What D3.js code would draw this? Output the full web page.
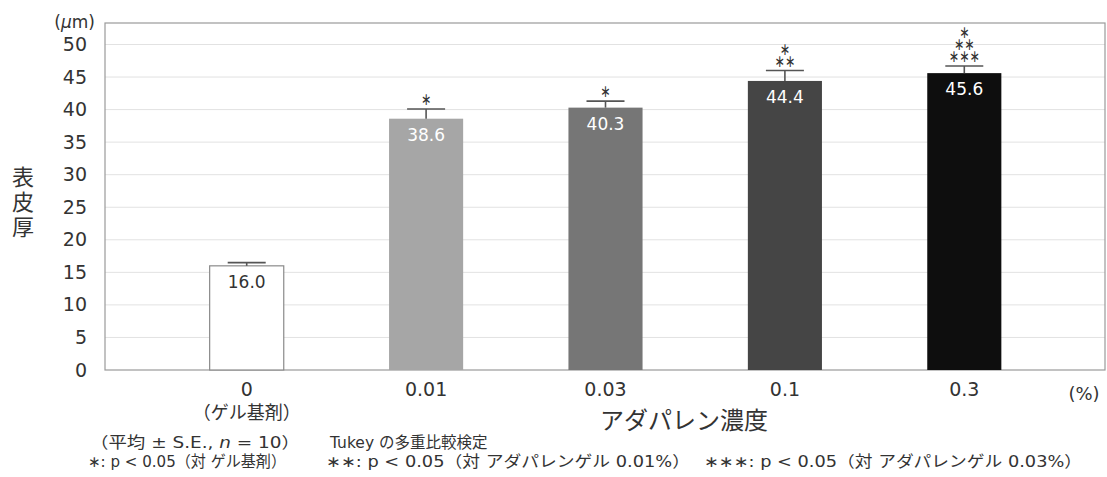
<!DOCTYPE html>
<html>
<head>
<meta charset="utf-8">
<script src="https://cdn.jsdelivr.net/npm/d3@7"></script>
<style>
  html, body { margin: 0; padding: 0; background: #fff; }
  svg { display: block; }
</style>
</head>
<body>
<svg id="chart" width="1107" height="477"></svg>
<script>
// Epidermal thickness by adapalene concentration
const categories = ["0", "0.01", "0.03", "0.1", "0.3"];
const means = [16.0, 38.6, 40.3, 44.4, 45.6];
const errors = [0.5, 1.5, 1.0, 1.6, 1.1];
const barColors = ["#ffffff", "#a6a6a6", "#767676", "#454545", "#0e0e0e"];
const labelColors = ["#333333", "#ffffff", "#ffffff", "#ffffff", "#ffffff"];
const significance = [[], ["*"], ["*"], ["*", "**"], ["*", "**", "***"]];
const yTicks = [0, 5, 10, 15, 20, 25, 30, 35, 40, 45, 50];

const JP = "'Noto Sans CJK JP', sans-serif";
const NUM = "'DejaVu Sans', 'Noto Sans CJK JP', sans-serif";
const INK = "#333";

const svg = d3.select("#chart");
const frame = { left: 105, right: 1105, top: 23, bottom: 370 };

const y = d3.scaleLinear().domain([0, 53.3]).range([frame.bottom, frame.top]);
const x = d3.scaleBand().domain(categories).range([157, 1054])
  .paddingInner(0.587).paddingOuter(0.2935);
const cx = d => x(d) + x.bandwidth() / 2;

// gridlines
svg.append("g").selectAll("line").data(yTicks.filter(d => d > 0)).join("line")
  .attr("x1", frame.left).attr("x2", frame.right)
  .attr("y1", d => y(d)).attr("y2", d => y(d))
  .attr("stroke", "#e2e2e2").attr("stroke-width", 1);

// plot frame
svg.append("rect")
  .attr("x", frame.left).attr("y", frame.top)
  .attr("width", frame.right - frame.left).attr("height", frame.bottom - frame.top)
  .attr("fill", "none").attr("stroke", "#9a9a9a").attr("stroke-width", 1.2);

// y axis tick labels
const yAxis = d3.axisLeft(y).tickValues(yTicks).tickSize(0).tickPadding(18);
const gy = svg.append("g").attr("transform", `translate(${frame.left},0)`).call(yAxis);
gy.select(".domain").remove();
gy.selectAll("text").style("font-family", NUM).style("font-size", "19px").style("fill", INK);

// unit
const unit = svg.append("text").attr("x", 95).attr("y", 28).attr("text-anchor", "end")
  .style("font-family", NUM).style("font-size", "17px").style("fill", INK);
unit.append("tspan").text("(");
unit.append("tspan").style("font-style", "italic").text("μ");
unit.append("tspan").text("m)");

// y title, stacked vertically
const yTitle = ["表", "皮", "厚"];
svg.append("g").selectAll("text").data(yTitle).join("text")
  .attr("x", 23).attr("y", (d, i) => 185 + i * 25)
  .attr("text-anchor", "middle")
  .style("font-family", JP).style("font-size", "22px").style("fill", INK)
  .text(d => d);

// bars
svg.append("g").selectAll("rect").data(categories).join("rect")
  .attr("x", d => x(d))
  .attr("y", (d, i) => y(means[i]))
  .attr("width", x.bandwidth())
  .attr("height", (d, i) => y(0) - y(means[i]))
  .attr("fill", (d, i) => barColors[i])
  .attr("stroke", (d, i) => i === 0 ? "#8a8a8a" : "none")
  .attr("stroke-width", 1.2);

// error bars (upper only)
const capHalf = 19;
const eb = svg.append("g").attr("stroke", "#555").attr("stroke-width", 1.6);
categories.forEach((c, i) => {
  const top = y(means[i] + errors[i]);
  eb.append("line").attr("x1", cx(c)).attr("x2", cx(c))
    .attr("y1", y(means[i])).attr("y2", top);
  eb.append("line").attr("x1", cx(c) - capHalf).attr("x2", cx(c) + capHalf)
    .attr("y1", top).attr("y2", top);
});

// value labels
svg.append("g").selectAll("text").data(categories).join("text")
  .attr("x", d => cx(d))
  .attr("y", (d, i) => y(means[i]) + 22)
  .attr("text-anchor", "middle")
  .style("font-family", NUM).style("font-size", "17px")
  .style("fill", (d, i) => labelColors[i])
  .text((d, i) => means[i].toFixed(1));

// significance marks, one stacked block above each error cap
categories.forEach((c, i) => {
  const marks = significance[i];
  if (!marks.length) return;
  const capY = y(means[i] + errors[i]);
  const block = svg.append("text")
    .attr("text-anchor", "middle")
    .style("font-family", NUM).style("font-size", "17px").style("fill", INK);
  marks.forEach((m, j) => {
    const centre = capY - 10 - (marks.length - 1 - j) * 12;
    block.append("tspan")
      .attr("x", cx(c)).attr("y", centre + 6)
      .attr("textLength", 10.3 * m.length)
      .attr("lengthAdjust", "spacingAndGlyphs")
      .text(m.replace(/\*/g, "∗"));
  });
});

// x axis labels
const xAxis = d3.axisBottom(x).tickSize(0).tickPadding(13);
const gx = svg.append("g").attr("transform", `translate(0,${frame.bottom})`).call(xAxis);
gx.select(".domain").remove();
gx.selectAll("text").style("font-family", NUM).style("font-size", "19px").style("fill", INK);

svg.append("text").attr("x", cx("0")).attr("y", 419)
  .attr("text-anchor", "middle")
  .style("font-family", JP).style("font-size", "18px").style("fill", INK)
  .text("（ゲル基剤）");
svg.append("text").attr("x", 1084).attr("y", 400)
  .attr("text-anchor", "middle")
  .style("font-family", NUM).style("font-size", "18px").style("fill", INK)
  .text("(%)");

// x title
svg.append("text").attr("x", 684).attr("y", 429)
  .attr("text-anchor", "middle")
  .style("font-family", JP).style("font-size", "24px").style("fill", INK)
  .text("アダパレン濃度");

// footnotes
const note = (xPos, yPos, len) => {
  const t = svg.append("text")
    .attr("x", xPos).attr("y", yPos)
    .style("font-family", NUM).style("font-size", "15.5px").style("fill", INK);
  if (len) t.attr("textLength", len).attr("lengthAdjust", "spacingAndGlyphs");
  return t;
};

const n1 = note(90, 448, 210);
n1.append("tspan").text("（平均 ± S.E., ");
n1.append("tspan").style("font-style", "italic").text("n");
n1.append("tspan").text(" = 10）");
note(330, 448).text("Tukey の多重比較検定");
note(88, 467, 198).text("∗: p < 0.05（対 ゲル基剤）");
note(326, 467, 364).text("∗∗: p < 0.05（対 アダパレンゲル  0.01%）");
note(704, 467, 378).text("∗∗∗: p < 0.05（対 アダパレンゲル  0.03%）");
</script>
</body>
</html>
